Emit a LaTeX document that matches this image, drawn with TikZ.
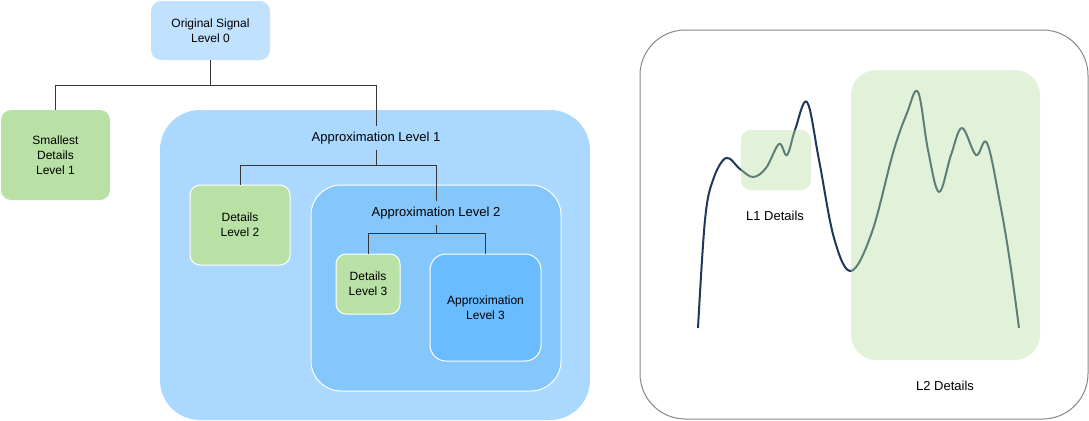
\documentclass[tikz,border=0pt]{standalone}
\usepackage{fontspec}
\setmainfont{Liberation Sans}
\usepackage{tikz}
\definecolor{SignalBlue}{RGB}{192, 226, 255}
\definecolor{ApproxOne}{RGB}{170, 216, 255}
\definecolor{ApproxTwo}{RGB}{133, 199, 250}
\definecolor{ApproxThree}{RGB}{104, 188, 255}
\definecolor{DetailGreen}{RGB}{185, 224, 165}
\definecolor{CurveNavy}{RGB}{30, 56, 88}
\definecolor{LinkGray}{RGB}{55, 55, 55}
\definecolor{PanelGray}{RGB}{135, 135, 135}
\tikzset{
  blockbox/.style={rectangle, inner sep=0pt, align=center,
    font=\fontsize{9}{11.25}\selectfont},
  detailbox/.style={blockbox, fill=DetailGreen, draw=white, line width=0.75pt, rounded corners=7.5pt},
  link/.style={draw=LinkGray, line width=0.75pt},
  levellabel/.style={inner xsep=2pt, inner ysep=4.5pt, font=\fontsize{9.75}{12}\selectfont},
  bandbox/.style={rectangle, fill=DetailGreen, fill opacity=0.42, inner sep=0pt},
}

\begin{document}
\begin{tikzpicture}[x=0.75pt, y=-0.75pt]
  \useasboundingbox (0,0) rectangle (1089,421);

  % wavelet tree
  \node[blockbox, fill=SignalBlue, rounded corners=7.5pt, minimum width=89.25pt, minimum height=44.25pt] (orig) at (210.5,30.5) {Original Signal\\Level 0};
  \node[detailbox, draw=none, minimum width=81.75pt, minimum height=67.5pt] (small) at (55.5,155) {Smallest\\Details\\Level 1};
  \node[blockbox, fill=ApproxOne, rounded corners=30pt, minimum width=322.5pt, minimum height=232.5pt] (aone) at (375,265) {};
  \node[detailbox, minimum width=75pt, minimum height=60pt] (dtwo) at (240,225) {Details\\Level 2};
  \node[blockbox, fill=ApproxTwo, draw=white, line width=0.75pt, rounded corners=22.5pt, minimum width=187.5pt, minimum height=154.5pt] (atwo) at (436,288) {};
  \node[detailbox, minimum width=48pt, minimum height=45pt] (dthree) at (368,284) {Details\\Level 3};
  \node[blockbox, fill=ApproxThree, draw=white, line width=0.75pt, rounded corners=12pt, minimum width=83.25pt, minimum height=80.25pt] (athree) at (485.5,307.5) {Approximation\\Level 3};

  \coordinate (jzero) at (210,85);
  \coordinate (jone) at (376,165);
  \coordinate (jtwo) at (436,233);

  \draw[link] (orig) -- (orig |- jzero) -| (small);
  \draw[link] (orig |- jzero) -| (jone);
  \node[levellabel, fill=ApproxOne] (aonelab) at (376,138) {Approximation Level 1};
  \draw[link] (jone) -| (dtwo);
  \draw[link] (jone) -| (jtwo);
  \node[levellabel, fill=ApproxTwo] (atwolab) at (436,213) {Approximation Level 2};
  \draw[link] (jtwo) -| (dthree);
  \draw[link] (jtwo) -| (athree);

  % signal panel
  \node[rectangle, draw=PanelGray, line width=0.75pt, rounded corners=34pt, minimum width=336pt, minimum height=291.75pt] (panel) at (864,224.5) {};
  \draw[CurveNavy, line width=1.5pt, line join=round] plot[smooth, tension=0.6] coordinates {
    (698,328) (705,220) (713,180) (726,158) (740,169) (753,177) (766,168) (779,144) (787,155)
    (795,130) (807,102) (819,160) (834,238) (851,271) (872,232) (893,153) (907,113)
    (918,92) (928,150) (939,192) (951,155) (962,128) (976,155) (987,143) (1000,203) (1010,262)
    (1019,328)};
  \node[bandbox, rounded corners=7.5pt, minimum width=52.5pt, minimum height=45pt] (lonebox) at (776,160) {};
  \node[bandbox, rounded corners=19pt, minimum width=141.75pt, minimum height=217.5pt] (ltwobox) at (945.5,215) {};
  \node[levellabel] (lonelab) at (775,215.5) {L1 Details};
  \node[levellabel] (ltwolab) at (945,385.5) {L2 Details};
\end{tikzpicture}
\end{document}
